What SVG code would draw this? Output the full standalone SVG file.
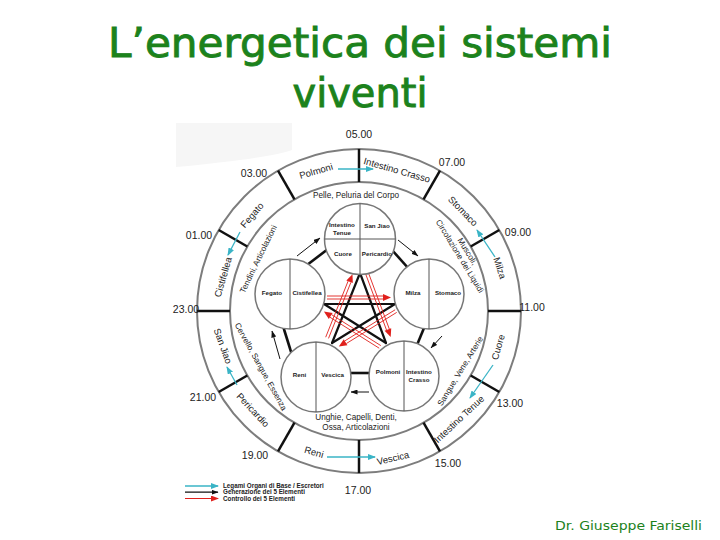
<svg xmlns="http://www.w3.org/2000/svg" width="720" height="540" viewBox="0 0 720 540">
<defs>
<marker id="mk-cyan" markerUnits="userSpaceOnUse" markerWidth="8" markerHeight="6" refX="7" refY="3" orient="auto"><path d="M0,0 L8,3 L0,6 Z" fill="#3ab4c6"/></marker>
<marker id="mk-black" markerUnits="userSpaceOnUse" markerWidth="7" markerHeight="5" refX="6.5" refY="2.5" orient="auto"><path d="M0,0 L7,2.5 L0,5 Z" fill="#111"/></marker>
<marker id="mk-red" markerUnits="userSpaceOnUse" markerWidth="8" markerHeight="6" refX="7" refY="3" orient="auto"><path d="M0,0 L8,3 L0,6 Z" fill="#e0201c"/></marker>
</defs>
<style>
.title{font-family:"DejaVu Sans","Liberation Sans",sans-serif;fill:#1c821c;stroke:#1c821c;stroke-width:0.9;text-anchor:middle;}
.foot{font-family:"DejaVu Sans","Liberation Sans",sans-serif;fill:#1c821c;text-anchor:middle;}
.t{font-family:"Liberation Sans",Arial,sans-serif;fill:#222;}
.time{font-size:10.5px;text-anchor:middle;}
.organ{font-size:9.5px;text-anchor:middle;}
.band{font-size:8.2px;text-anchor:middle;}
.cell{font-size:6.2px;font-weight:bold;text-anchor:middle;}
.leg{font-size:6.3px;font-weight:bold;}
.ring{fill:none;stroke:#7d7d7d;stroke-width:2;}
.div{stroke:#111;stroke-width:2.5;}
.node{fill:#fff;stroke:#777;stroke-width:1.5;}
.split{stroke:#555;stroke-width:1;}
.star{stroke:#111;stroke-width:2.2;stroke-linecap:round;}
.link{stroke:#111;stroke-width:2.6;}
.gen{stroke:#111;stroke-width:1;marker-end:url(#mk-black);}
.ctl{stroke:#e0201c;stroke-width:0.9;}
.ctlh{fill:#e0201c;}
.cyan{stroke:#3ab4c6;stroke-width:1.3;marker-end:url(#mk-cyan);}
</style>
<rect x="0" y="0" width="720" height="540" fill="#fff"/>
<path d="M176,123 L292,123 L292,150 Q270,158 176,167 Z" fill="#f6f6f6"/>

<g id="title">
<text class="title" x="360" y="57" font-size="40" textLength="504" lengthAdjust="spacingAndGlyphs">L’energetica dei sistemi</text>
<text class="title" x="360" y="107" font-size="40" textLength="135" lengthAdjust="spacingAndGlyphs">viventi</text>
</g>

<g id="ring">
<circle class="ring" cx="359" cy="311" r="162"/>
<circle class="ring" cx="359" cy="311" r="129"/>
<line class="div" x1="359" y1="149" x2="359" y2="182"/>
<line class="div" x1="440" y1="170.7" x2="423.5" y2="199.3"/>
<line class="div" x1="499.3" y1="230" x2="470.7" y2="246.5"/>
<line class="div" x1="521" y1="311" x2="488" y2="311"/>
<line class="div" x1="499.3" y1="392" x2="470.7" y2="375.5"/>
<line class="div" x1="440" y1="451.3" x2="423.5" y2="422.7"/>
<line class="div" x1="359" y1="473" x2="359" y2="440"/>
<line class="div" x1="278" y1="451.3" x2="294.5" y2="422.7"/>
<line class="div" x1="218.7" y1="392" x2="247.3" y2="375.5"/>
<line class="div" x1="197" y1="311" x2="230" y2="311"/>
<line class="div" x1="218.7" y1="230" x2="247.3" y2="246.5"/>
<line class="div" x1="278" y1="170.7" x2="294.5" y2="199.3"/>
</g>

<g id="time-labels" class="t time">
<text x="359" y="138">05.00</text>
<text x="452" y="166">07.00</text>
<text x="518" y="236">09.00</text>
<text x="532" y="311">11.00</text>
<text x="510" y="407">13.00</text>
<text x="448" y="467">15.00</text>
<text x="358" y="494">17.00</text>
<text x="255" y="459">19.00</text>
<text x="203" y="401">21.00</text>
<text x="186" y="313">23.00</text>
<text x="199" y="239">01.00</text>
<text x="254" y="177">03.00</text>
</g>

<g id="ring-organs" class="t organ">
<g id="o-polmoni"><text transform="translate(316,171) rotate(-16)" y="3.4">Polmoni</text></g>
<g id="o-intestino-crasso"><text transform="translate(397,170) rotate(16)" y="3.4">Intestino Crasso</text></g>
<g id="o-stomaco"><text transform="translate(463,211) rotate(46)" y="3.4">Stomaco</text></g>
<g id="o-milza"><text transform="translate(500,268) rotate(72)" y="3.4">Milza</text></g>
<g id="o-cuore"><text transform="translate(498,347) rotate(-74)" y="3.4">Cuore</text></g>
<g id="o-intestino-tenue"><text transform="translate(459,419) rotate(-43)" y="3.4">Intestino Tenue</text></g>
<g id="o-vescica"><text transform="translate(393,458) rotate(-13)" y="3.4">Vescica</text></g>
<g id="o-reni"><text transform="translate(314,452) rotate(16)" y="3.4">Reni</text></g>
<g id="o-pericardio"><text transform="translate(253,410) rotate(47)" y="3.4">Pericardio</text></g>
<g id="o-san-jiao"><text transform="translate(223,346) rotate(70)" y="3.4">San Jiao</text></g>
<g id="o-cistifellea"><text transform="translate(223,277) rotate(-74)" y="3.4">Cistifellea</text></g>
<g id="o-fegato"><text transform="translate(252,215) rotate(-49)" y="3.4">Fegato</text></g>
</g>

<g id="band-labels" class="t band">
<text x="356" y="198">Pelle, Peluria del Corpo</text>
<text transform="translate(258,259) rotate(-64)" y="3">Tendini, Articolazioni</text>
<g transform="translate(460,256) rotate(58.6)">
<text y="-6">Muscoli,</text>
<text y="3">Circolazione dei Liquidi</text>
</g>
<text transform="translate(460,371) rotate(-58.6)" y="3">Sangue, Vene, Arterie</text>
<text transform="translate(261,366.5) rotate(61)" y="3">Cervello, Sangue, Essenza</text>
<text x="356" y="420">Unghie, Capelli, Denti,</text>
<text x="356" y="430">Ossa, Articolazioni</text>
</g>

<g id="connectors">
<g id="star">
<line class="star" x1="360" y1="273" x2="332" y2="343"/>
<line class="star" x1="360" y1="273" x2="386" y2="343"/>
<line class="star" x1="324" y1="304" x2="395" y2="304"/>
<line class="star" x1="324" y1="304" x2="386" y2="343"/>
<line class="star" x1="395" y1="304" x2="332" y2="343"/>
</g>
<g id="control">
<line class="ctl" x1="327" y1="299" x2="383" y2="299"/>
<line class="ctl" x1="327" y1="296" x2="383" y2="296"/>
<polygon class="ctlh" points="391,297.5 383,294 383,301"/>
<line class="ctl" x1="365.7" y1="274.1" x2="386.5" y2="330"/>
<line class="ctl" x1="368.5" y1="273" x2="389.3" y2="329"/>
<polygon class="ctlh" points="390.7,337 391.2,328.3 384.6,330.7"/>
<line class="ctl" x1="380.8" y1="345.6" x2="331.5" y2="314.6"/>
<line class="ctl" x1="379.2" y1="348.2" x2="329.9" y2="317.2"/>
<polygon class="ctlh" points="323.9,311.6 328.8,318.9 332.6,312.9"/>
<line class="ctl" x1="395.1" y1="309.8" x2="344.8" y2="340.9"/>
<line class="ctl" x1="396.7" y1="312.4" x2="346.4" y2="343.5"/>
<polygon class="ctlh" points="338.8,346.4 347.4,345.2 343.8,339.2"/>
<line class="ctl" x1="328.5" y1="338.4" x2="350.9" y2="282.3"/>
<line class="ctl" x1="325.7" y1="337.2" x2="348.1" y2="281.1"/>
<polygon class="ctlh" points="352.5,274.3 346.3,280.4 352.8,283"/>
</g>
<g id="links">
<line class="link" x1="307" y1="265" x2="328" y2="249"/>
<line class="link" x1="392" y1="250" x2="409" y2="269"/>
<line class="link" x1="424" y1="328" x2="417" y2="345"/>
<line class="link" x1="349" y1="373" x2="371" y2="373"/>
<line class="link" x1="283" y1="326" x2="292" y2="355"/>
</g>
<g id="generation">
<line class="gen" x1="297" y1="256" x2="320" y2="238"/>
<line class="gen" x1="398" y1="240" x2="418" y2="256"/>
<line class="gen" x1="442" y1="336" x2="431" y2="348"/>
<line class="gen" x1="369" y1="392" x2="351" y2="392"/>
<line class="gen" x1="280" y1="359" x2="272" y2="331"/>
</g>
<g id="organ-links">
<line class="cyan" x1="338" y1="169" x2="373" y2="169"/>
<line class="cyan" x1="495" y1="257" x2="477" y2="230"/>
<line class="cyan" x1="493" y1="365" x2="470" y2="398"/>
<line class="cyan" x1="327" y1="457" x2="375" y2="457"/>
<line class="cyan" x1="237" y1="385" x2="227" y2="367"/>
<line class="cyan" x1="240" y1="232" x2="228" y2="255"/>
</g>
</g>

<g id="node-fuoco">
<circle class="node" cx="360" cy="239" r="35.5"/>
<line class="split" x1="360" y1="203.5" x2="360" y2="274.5"/>
<line class="split" x1="324.5" y1="239" x2="395.5" y2="239"/>
<text class="t cell" x="342" y="227.2">Intestino</text>
<text class="t cell" x="342" y="235.2">Tenue</text>
<text class="t cell" x="377" y="227.5">San Jiao</text>
<text class="t cell" x="343" y="256">Cuore</text>
<text class="t cell" x="377" y="255.5">Pericardio</text>
</g>
<g id="node-legno">
<circle class="node" cx="290" cy="294" r="35"/>
<line class="split" x1="290" y1="259" x2="290" y2="329"/>
<text class="t cell" x="272" y="294.5">Fegato</text>
<text class="t cell" x="307" y="294.5">Cistifellea</text>
</g>
<g id="node-terra">
<circle class="node" cx="429" cy="294" r="35"/>
<line class="split" x1="429" y1="259" x2="429" y2="329"/>
<text class="t cell" x="413" y="294.5">Milza</text>
<text class="t cell" x="448" y="294.5">Stomaco</text>
</g>
<g id="node-acqua">
<circle class="node" cx="316" cy="377" r="35"/>
<line class="split" x1="316" y1="342" x2="316" y2="412"/>
<text class="t cell" x="299.5" y="376.5">Reni</text>
<text class="t cell" x="332.5" y="376.5">Vescica</text>
</g>
<g id="node-metallo">
<circle class="node" cx="404" cy="376" r="35"/>
<line class="split" x1="404" y1="341" x2="404" y2="411"/>
<text class="t cell" x="388" y="374.2">Polmoni</text>
<text class="t cell" x="419" y="374.2">Intestino</text>
<text class="t cell" x="419" y="382.2">Crasso</text>
</g>

<g id="legend">
<line class="cyan" x1="185" y1="486" x2="218" y2="486"/>
<line x1="185" y1="492.2" x2="218" y2="492.2" stroke="#111" stroke-width="1.2" marker-end="url(#mk-black)"/>
<line x1="185" y1="498.5" x2="218" y2="498.5" stroke="#e0201c" stroke-width="1.2" marker-end="url(#mk-red)"/>
<text class="t leg" x="223" y="488.2">Legami Organi di Base / Escretori</text>
<text class="t leg" x="223" y="494.4">Generazione dei 5 Elementi</text>
<text class="t leg" x="223" y="500.7">Controllo dei 5 Elementi</text>
</g>

<g id="footer">
<text class="foot" x="628.5" y="530" font-size="13" textLength="147" lengthAdjust="spacingAndGlyphs">Dr. Giuseppe Fariselli</text>
</g>
</svg>
